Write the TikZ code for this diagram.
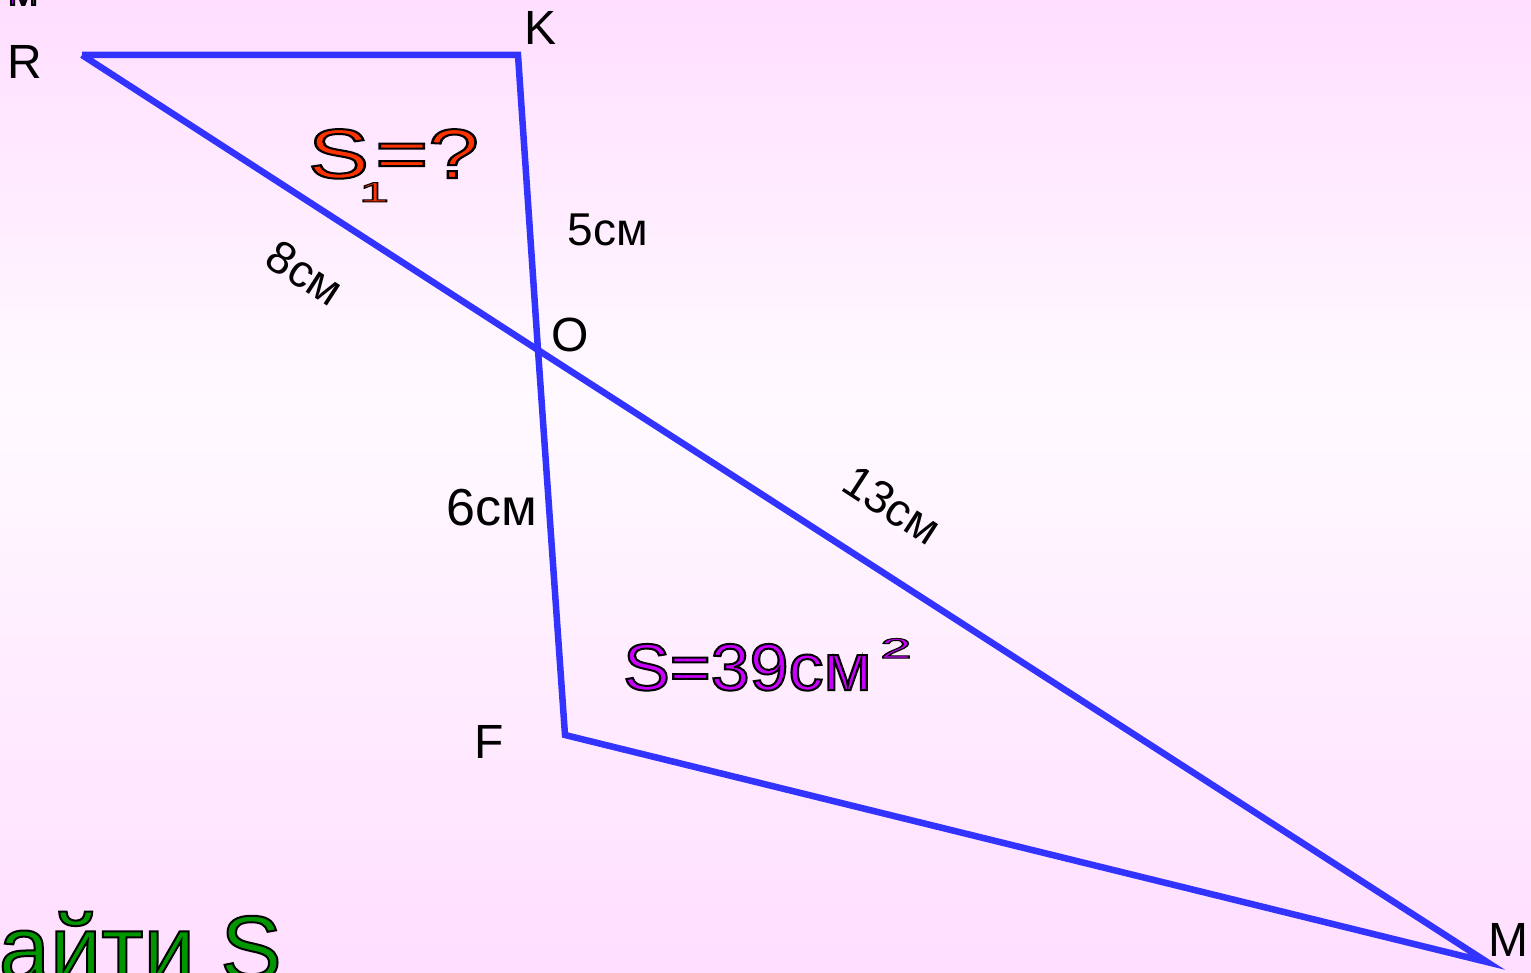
\documentclass[tikz,border=0pt]{standalone}
\usepackage{fontspec}
\setmainfont{Liberation Sans}
\definecolor{lineblue}{RGB}{51,51,255}
\definecolor{bgpink}{RGB}{255,222,255}
\definecolor{bgwhite}{RGB}{255,250,255}
\definecolor{sred}{RGB}{255,51,0}
\definecolor{spurple}{RGB}{204,0,255}
\definecolor{sgreen}{RGB}{0,150,0}
\newcommand\otext[2][2]{\special{pdf:literal direct 2 Tr #1 w 0 0 0 RG}#2\special{pdf:literal direct 0 Tr}}
\tikzset{
  edge/.style={draw=lineblue, line width=6.5pt, line join=miter},
  vlabel/.style={inner sep=0pt, font=\fontsize{48}{50}\selectfont},
  llabel/.style={inner sep=0pt, font=\fontsize{46}{48}\selectfont},
  big/.style={inner sep=0pt, anchor=base west},
}
\begin{document}
\begin{tikzpicture}[x=1pt,y=-1pt]
\useasboundingbox (0,0) rectangle (1531,973);
\clip (0,0) rectangle (1531,973);
\shade[top color=bgpink, bottom color=bgwhite] (0,0) rectangle (1531,400);
\shade[top color=bgwhite, bottom color=bgpink] (0,400) rectangle (1531,973);
% points
\coordinate (R) at (82,55);
\coordinate (K) at (518,55);
\coordinate (O) at (538,350);
\coordinate (F) at (565,735);
\coordinate (M) at (1487,962);
\draw[edge] (R) -- (K) -- (O) -- (F) -- (M) -- (O) -- (R);
% vertex labels
\node[vlabel] (lR) at (25,62) {R};
\node[vlabel] (lK) at (541,28) {K};
\node[vlabel] (lO) at (570,335) {O};
\node[vlabel] (lF) at (489,742) {F};
\node[vlabel] (lM) at (1508,940) {M};
% length labels
\node[llabel] (l5) at (608,230) {5см};
\node[llabel, font=\fontsize{52}{54}\selectfont] (l6) at (492,508) {6см};
\node[llabel, rotate=-33] (l8) at (305,273) {8см};
\node[llabel, rotate=-33] (l13) at (892,505) {13см};
% area labels
\node[big, text=sred, xscale=1.3, font=\fontsize{70}{72}\selectfont] (s1S) at (308,178) {\otext{S}};
\node[big, text=sred, xscale=1.3, font=\fontsize{70}{72}\selectfont] (s1eq) at (375,178) {\otext{=?}};
\node[big, text=sred, xscale=1.9, font=\fontsize{28}{30}\selectfont] (s1sub) at (359,202) {\otext[1]{1}};
\node[big, text=spurple, xscale=1.06, font=\fontsize{66}{68}\selectfont] (s2) at (623,690) {\otext{S=39см}};
\node[big, text=spurple, xscale=2, font=\fontsize{28}{30}\selectfont] (s2sup) at (880,658) {\otext[1]{2}};
% cut-off texts
\node[inner sep=0pt, anchor=base east, text=sgreen, font=\fontsize{92}{94}\selectfont] (find) at (282,980) {\otext{Найти S}};
\node[big, text=spurple, font=\fontsize{36}{38}\selectfont] (topM) at (8,5) {\otext{М}};
\end{tikzpicture}
\end{document}
